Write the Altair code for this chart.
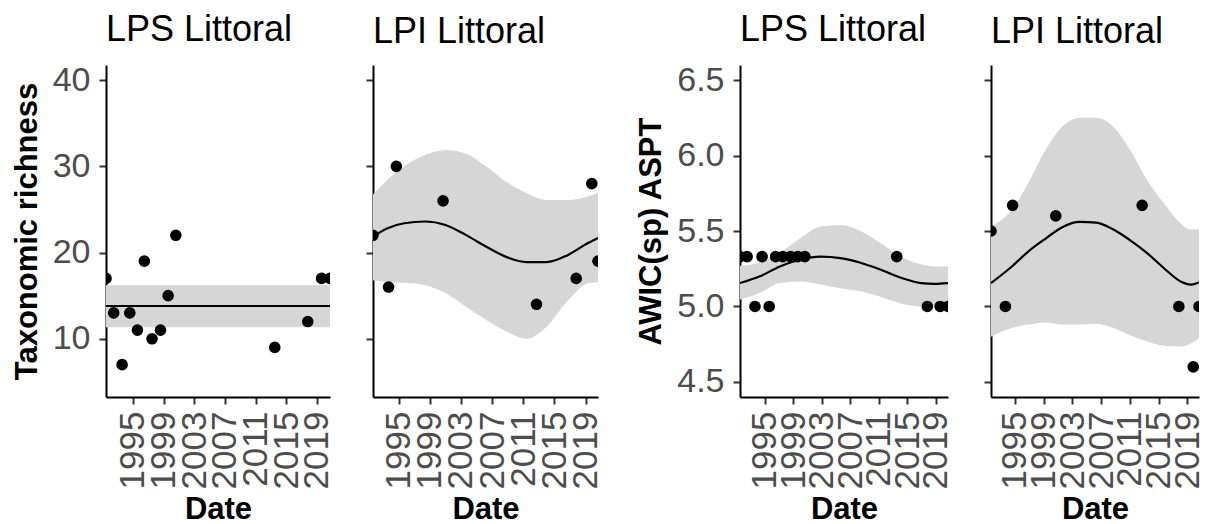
import altair as alt
import pandas as pd

FONT = "Liberation Sans"

# ---- data ----
x_ticks = [1995, 1999, 2003, 2007, 2011, 2015, 2019]

lps_dates = [1991.5, 1992.5, 1993.6, 1994.6, 1995.6, 1996.5, 1997.5, 1998.6,
             1999.6, 2000.6, 2013.5, 2017.8, 2019.6, 2020.7]
lps_richness = [17, 13, 7, 13, 11, 19, 10, 11, 15, 22, 9, 12, 17, 17]
lps_aspt = [5.33, 5.33, 5.0, 5.33, 5.0, 5.33, 5.33, 5.33, 5.33, 5.33,
            5.33, 5.0, 5.0, 5.0]

lpi_dates = [1991.7, 1993.7, 1994.7, 2000.7, 2012.7, 2017.8, 2019.8, 2020.6]
lpi_richness = [22, 16, 30, 26, 14, 17, 28, 19]
lpi_aspt = [5.5, 5.0, 5.67, 5.6, 5.67, 5.0, 4.6, 5.0]

# fitted smooths
lps_rich_fit_x = [1991.5, 2020.7]
lps_rich_fit = [13.8, 13.8]
lps_rich_lo = [11.35, 11.35]
lps_rich_hi = [16.2, 16.2]

lpi_rich_fit_x = [1991.7, 1993.5, 1995.7, 1998.4, 2001.0, 2003.6, 2006.2,
                  2008.8, 2011.4, 2014.0, 2016.7, 2019.3, 2020.6]
lpi_rich_fit = [21.85, 22.8, 23.4, 23.6, 23.2, 22.05, 20.7, 19.5, 18.9,
                18.9, 19.7, 21.1, 21.7]
lpi_rich_hi = [26.7, 28.4, 30.0, 31.3, 31.9, 31.5, 30.0, 28.2, 26.9, 26.1,
               26.1, 26.5, 26.9]
lpi_rich_lo = [16.8, 16.6, 16.5, 16.2, 15.3, 13.75, 12.2, 10.85, 10.0, 11.4,
               14.4, 16.45, 16.6]

lps_aspt_fit_x = [1991.5, 1994.3, 1997.1, 1999.9, 2002.8, 2005.6, 2008.4,
                  2011.2, 2014.1, 2016.9, 2018.8, 2020.7]
lps_aspt_fit = [5.155, 5.2, 5.265, 5.31, 5.33, 5.32, 5.29, 5.245, 5.19,
                5.155, 5.15, 5.155]
lps_aspt_hi = [5.27, 5.29, 5.355, 5.45, 5.53, 5.54, 5.50, 5.42, 5.33, 5.28,
               5.265, 5.265]
lps_aspt_lo = [5.045, 5.09, 5.155, 5.165, 5.145, 5.12, 5.1, 5.065, 5.02,
               5.0, 5.0, 5.01]

lpi_aspt_fit_x = [1991.7, 1994.6, 1996.9, 1999.3, 2001.6, 2004.0, 2006.3,
                  2008.7, 2011.0, 2013.35, 2015.7, 2018.05, 2019.5, 2020.6]
lpi_aspt_fit = [5.155, 5.265, 5.365, 5.45, 5.525, 5.56, 5.555, 5.51, 5.44,
                5.355, 5.255, 5.166, 5.145, 5.16]
lpi_aspt_hi = [5.53, 5.64, 5.82, 6.04, 6.19, 6.25, 6.25, 6.19, 6.04, 5.84,
               5.685, 5.55, 5.51, 5.51]
lpi_aspt_lo = [4.80, 4.857, 4.88, 4.894, 4.88, 4.88, 4.885, 4.857, 4.81,
               4.77, 4.74, 4.735, 4.757, 4.79]

rich_ticks = [10, 20, 30, 40]
aspt_ticks = [4.5, 5.0, 5.5, 6.0, 6.5]

H = 332


def panel(dates, values, fx, fit, lo, hi, xdomain, ydomain, yticks, yfmt,
          title, ytitle, show_labels, width):
    pts = pd.DataFrame({"date": dates, "value": values})
    fdf = pd.DataFrame({"date": fx, "fit": fit, "lo": lo, "hi": hi})
    xenc = alt.X("date:Q",
                 scale=alt.Scale(domain=xdomain, nice=False, zero=False),
                 axis=alt.Axis(values=x_ticks, format="d", title="Date",
                               labelAngle=270, labelAlign="right",
                               labelBaseline="middle", labelPadding=7,
                               labelFontSize=35,
                               labelOverlap=False, labelFlush=False,
                               titlePadding=6))
    yscale = alt.Scale(domain=ydomain, nice=False, zero=False)
    if show_labels:
        yaxis = alt.Axis(values=yticks, format=yfmt, title=ytitle,
                         labelPadding=9, titlePadding=9)
    else:
        yaxis = alt.Axis(values=yticks, labels=False, title=None)

    band = alt.Chart(fdf).mark_area(color="#D6D6D6", opacity=1, clip=True,
                                    interpolate="monotone").encode(
        x=xenc, y=alt.Y("lo:Q", scale=yscale, axis=yaxis), y2="hi:Q")
    line = alt.Chart(fdf).mark_line(color="black", strokeWidth=2.2, clip=True,
                                    interpolate="monotone").encode(
        x=xenc, y=alt.Y("fit:Q", scale=yscale, axis=yaxis))
    dots = alt.Chart(pts).mark_circle(color="black", opacity=1, size=135,
                                      clip=True).encode(
        x=xenc, y=alt.Y("value:Q", scale=yscale, axis=yaxis))
    return alt.layer(band, line, dots).properties(
        width=width, height=H,
        title=alt.TitleParams(title, anchor="start", frame="group",
                              fontSize=36, font=FONT, fontWeight="normal",
                              color="black", offset=14))


rich_dom = [3.25, 41.75]
aspt_dom = [4.4, 6.6]
lps_xd = [1991.5, 2020.7]
lpi_xd = [1991.7, 2020.6]

p1 = panel(lps_dates, lps_richness, lps_rich_fit_x, lps_rich_fit, lps_rich_lo,
           lps_rich_hi, lps_xd, rich_dom, rich_ticks, "d", "LPS Littoral",
           "Taxonomic richness", True, 224)
p2 = panel(lpi_dates, lpi_richness, lpi_rich_fit_x, lpi_rich_fit, lpi_rich_lo,
           lpi_rich_hi, lpi_xd, rich_dom, rich_ticks, "d", "LPI Littoral",
           "", False, 225)
p3 = panel(lps_dates, lps_aspt, lps_aspt_fit_x, lps_aspt_fit, lps_aspt_lo,
           lps_aspt_hi, lps_xd, aspt_dom, aspt_ticks, ".1f", "LPS Littoral",
           "AWIC(sp) ASPT", True, 208)
p4 = panel(lpi_dates, lpi_aspt, lpi_aspt_fit_x, lpi_aspt_fit, lpi_aspt_lo,
           lpi_aspt_hi, lpi_xd, aspt_dom, aspt_ticks, ".1f", "LPI Littoral",
           "", False, 208)

left = alt.hconcat(p1, p2, spacing=30)
right = alt.hconcat(p3, p4, spacing=29)

chart = alt.hconcat(left, right, spacing=31).properties(
    padding={"left": 3, "top": 4, "right": 0, "bottom": 0}
).configure_view(stroke=None).configure_axis(
    domainColor="black", domainWidth=2, tickColor="#333333", tickWidth=2,
    tickSize=7, grid=False,
    labelFont=FONT, labelFontSize=34, labelColor="#4D4D4D",
    titleFont=FONT, titleFontSize=31, titleFontWeight="bold",
    titleColor="black"
)

chart.save("out.html", embed_options={"renderer": "svg", "actions": False})
